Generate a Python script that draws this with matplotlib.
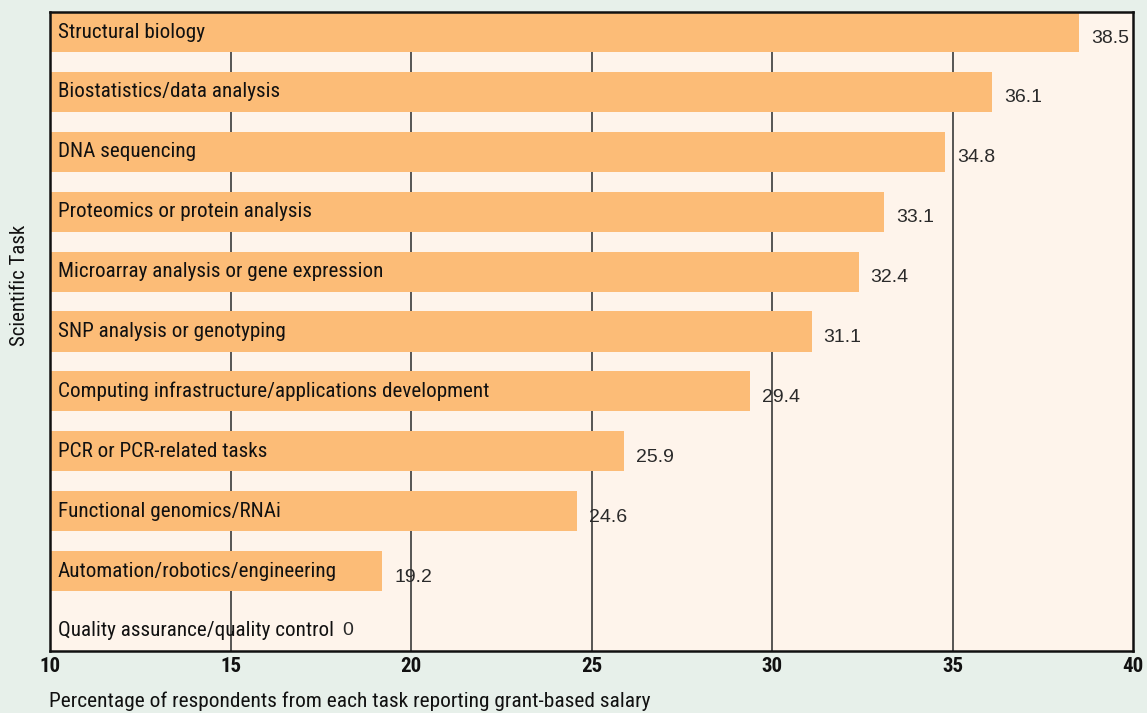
import matplotlib.pyplot as plt
from matplotlib.transforms import offset_copy

tasks = [
    "Structural biology",
    "Biostatistics/data analysis",
    "DNA sequencing",
    "Proteomics or protein analysis",
    "Microarray analysis or gene expression",
    "SNP analysis or genotyping",
    "Computing infrastructure/applications development",
    "PCR or PCR-related tasks",
    "Functional genomics/RNAi",
    "Automation/robotics/engineering",
    "Quality assurance/quality control",
]
pct = [38.5, 36.1, 34.8, 33.1, 32.4, 31.1, 29.4, 25.9, 24.6, 19.2, 0]
xticks = [10, 15, 20, 25, 30, 35, 40]

narrow = ["Roboto Condensed", "DejaVu Sans"]
plain = ["Liberation Sans", "DejaVu Sans"]

fig = plt.figure(figsize=(11.47, 7.13), dpi=100, facecolor="#e7f0ea")
ax = fig.add_axes([50 / 1147, 1 - 651 / 713, 1083 / 1147, 639 / 713])
ax.set_facecolor("#fef4eb")

ypos = list(range(len(tasks)))
ax.barh(ypos, pct, height=0.67, color="#fcbc77", zorder=2)
ax.set_xlim(10, 40)
ax.set_ylim(10.334, -0.334)

for x in xticks[1:-1]:
    ax.axvline(x, color="#3a3a3a", lw=1.2, zorder=1)

for s in ax.spines.values():
    s.set_linewidth(1.8)
    s.set_color("#111111")

ax.set_yticks([])
ax.set_xticks(xticks)
ax.tick_params(axis="x", length=0, pad=4)
for lab in ax.get_xticklabels():
    lab.set_family(narrow)
    lab.set_fontsize(15)
    lab.set_fontweight("bold")
    lab.set_color("#111111")

# category names inside the bars
name_texts = []
for y, name in zip(ypos, tasks):
    t = ax.text(10, y, name, transform=offset_copy(ax.transData, fig, x=8, y=0, units="dots"),
                ha="left", va="center", family=narrow, fontsize=15.2, color="#111111", zorder=3)
    name_texts.append(t)

fig.canvas.draw()
renderer = fig.canvas.get_renderer()

# value labels after the bar end (or after the name when the bar is empty)
for y, v, t in zip(ypos, pct, name_texts):
    if v <= 10:
        bb = t.get_window_extent(renderer)
        xd = ax.transData.inverted().transform((bb.x1, 0))[0]
        tr = offset_copy(ax.transData, fig, x=8, y=0, units="dots")
    else:
        xd = v
        tr = offset_copy(ax.transData, fig, x=12, y=-6, units="dots")
    ax.text(xd, y, f"{v:g}", transform=tr, ha="left", va="center",
            family=plain, fontsize=14, color="#2a2a2a", zorder=3)

fig.text(49 / 1147, 1 - 701 / 713, "Percentage of respondents from each task reporting grant-based salary",
         ha="left", va="center", family=narrow, fontsize=15.4, color="#111111")
fig.text(20 / 1147, 1 - 285 / 713, "Scientific Task", rotation=90, ha="center", va="center",
         family=narrow, fontsize=15, color="#111111")

fig.savefig("out.png", dpi=100, facecolor=fig.get_facecolor())
